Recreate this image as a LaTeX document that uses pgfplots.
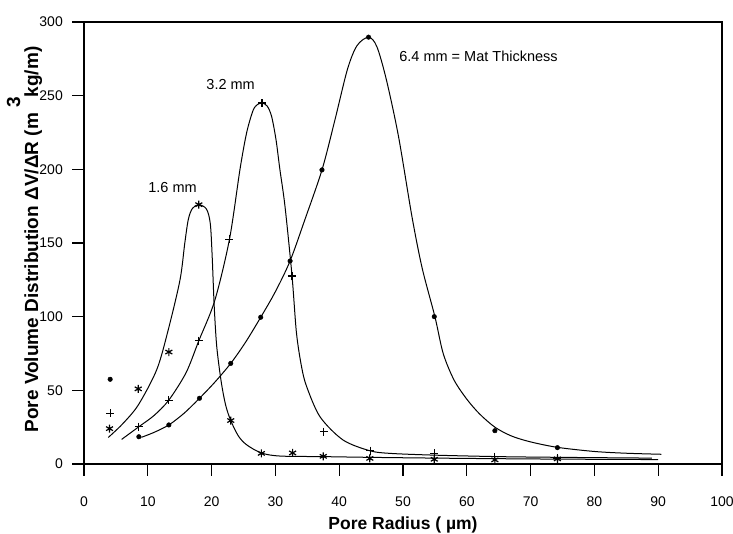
\documentclass[border=0pt]{standalone}
\usepackage{fontspec}
\setmainfont{Liberation Sans}
\usepackage{pgfplots}
\pgfplotsset{compat=1.18}

\begin{document}
\begin{tikzpicture}
\begin{axis}[
  scale only axis, width=638pt, height=442pt,
  xmin=0, xmax=100, ymin=0, ymax=300,
  xtick={0,10,...,100}, ytick={0,50,...,300},
  tick pos=left, tick align=outside, major tick length=12pt,
  axis line style={line width=1.1pt},
  every tick/.style={black, line width=1.1pt},
  tick label style={font=\fontsize{14}{16}\selectfont},
  /pgf/number format/assume math mode=true,
  xticklabel style={anchor=base, inner sep=0pt},
  xticklabel shift=30pt,
  yticklabel style={anchor=east, inner sep=0pt},
  yticklabel shift=9pt,
  xlabel={\bfseries Pore Radius ( µm)},
  xlabel style={at={(axis description cs:0.5,-0.149)}, anchor=base,
                font=\fontsize{17.5}{20}\selectfont},
  ylabel={\bfseries Pore Volume Distribution ΔV/ΔR (m \raisebox{0.95em}{3}kg/m)},
  ylabel style={at={(axis description cs:-0.072,0.508)}, anchor=base,
                font=\fontsize{19}{22}\selectfont},
  clip=false,
]
% fitted curves
\addplot[black, line width=1pt, smooth] coordinates {
  (3.8,18)(6,27)(8.5,40)(11.4,64)(13.2,91)(15.05,125)(15.8,150)(16.35,166)
  (17,173.5)(18,176)(19.2,173)(19.8,163)(20.1,140)(20.4,108)(20.8,80)
  (21.5,56)(22.2,40)(23,29.5)(24.2,19)(25.5,13)(27.8,7.5)(30.7,5.4)
  (37.5,5)(45,4.5)(55,4)(65,3.6)(75,3.3)(90,3)};
\addplot[black, line width=1pt, smooth] coordinates {
  (5.9,16.7)(8.6,25.3)(11,33)(13.3,43.4)(16,62)(18,83.7)(20.5,111)
  (22.8,152.5)(24.45,200)(25.5,225)(26.5,240)(27.2,244)(27.9,245)
  (28.7,243)(29.4,236)(30.1,220)(30.7,200)(31.5,175)(32.6,128)(33.3,89)
  (34.1,66)(34.9,52.5)(37,32)(40.6,16.3)(44.8,9)(48,7.2)(55,6)(65,5)
  (75,4.5)(89,4)};
\addplot[black, line width=1pt, smooth] coordinates {
  (9,18.1)(11,21.5)(13.3,26.5)(15.7,34.5)(18.1,44.6)(20.5,55.5)(23,68.3)
  (25.3,82.5)(27.7,99.6)(30,117)(32.3,137.8)(34.6,165.6)(37.3,199.6)
  (39.3,233)(41.3,268)(42.8,284)(44.6,289.7)(45.9,283.3)(47.4,260.7)
  (49.3,222.2)(51.4,168)(53,133)(55,100)(56.3,75)(58,57)(60,44)(62,34)
  (64.4,25)(67,19)(70,15)(74.2,11.3)(80,8.5)(85,7.3)(90.5,6.6)};
% measured points
\addplot[only marks, mark=asterisk, mark size=4pt, line width=1.2pt] coordinates {
  (4,24)(8.5,51)(13.3,76)(18,176)(23,29.5)(27.8,7.2)(32.7,7.5)(37.5,5.2)
  (44.8,3.8)(54.9,3.2)(64.4,2.8)(74.2,3.5)};
\addplot[only marks, mark=+, mark size=4pt, line width=1.1pt] coordinates {
  (4.1,34.4)(8.6,25.3)(13.3,43.4)(18,83.7)(22.8,152.5)(27.9,245)(32.6,127.6)
  (37.6,21.9)(44.9,9.1)(54.9,7.2)(64.4,5)(74.2,4)};
\addplot[only marks, mark=*, mark size=2.3pt] coordinates {
  (4.1,57.5)(8.6,18.5)(13.3,26.5)(18.1,44.6)(23,68.3)(27.7,99.6)(32.3,137.8)
  (37.3,199.6)(44.6,289.7)(54.9,100)(64.4,22.6)(74.2,11.1)};
\node[anchor=base east, inner sep=0pt, font=\fontsize{14.5}{17}\selectfont]
  at (axis cs:17.7,184.4) {1.6 mm};
\node[anchor=base east, inner sep=0pt, font=\fontsize{14.5}{17}\selectfont]
  at (axis cs:26.8,254.4) {3.2 mm};
\node[anchor=base west, inner sep=0pt, font=\fontsize{14.5}{17}\selectfont]
  at (axis cs:49.4,273.1) {6.4 mm = Mat Thickness};
\end{axis}
\pgfresetboundingbox
\path[use as bounding box] (-84pt,-70pt) rectangle (649pt,464pt);
\end{tikzpicture}
\end{document}
